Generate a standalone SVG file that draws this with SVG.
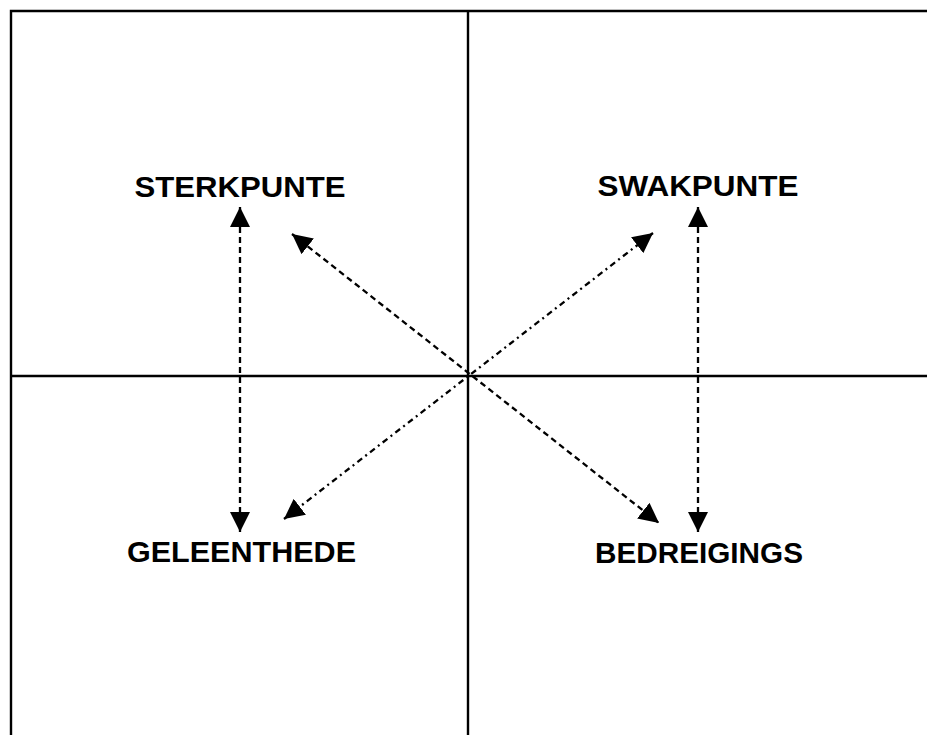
<svg xmlns="http://www.w3.org/2000/svg" width="927" height="735" viewBox="0 0 927 735">
<style>
.frame{stroke:#000;stroke-width:2.4;fill:none}
.dash{stroke:#000;stroke-width:2.3;fill:none;stroke-dasharray:6 4}
.dashdot{stroke:#000;stroke-width:2.3;fill:none;stroke-dasharray:6 4 2 4}
.lbl{font-family:"Liberation Sans",Arial,sans-serif;font-weight:bold;font-size:30px;fill:#000;text-anchor:middle}
</style>
<defs>
<marker id="ahb" viewBox="0 0 20 20" refX="20" refY="10" markerWidth="20" markerHeight="21" markerUnits="userSpaceOnUse" orient="auto-start-reverse">
<path d="M0,0 L20,10 L0,20 Z" fill="#000"/>
</marker>
</defs>
<rect width="927" height="735" fill="#fff"/>
<g id="frame">
<path class="frame" d="M11,736 L11,11 L928,11"/>
<line class="frame" x1="468" y1="11" x2="468" y2="736"/>
<line class="frame" x1="11" y1="376" x2="928" y2="376"/>
</g>
<g id="connectors">
<line class="dash" x1="240" y1="207" x2="240" y2="532" marker-start="url(#ahb)" marker-end="url(#ahb)"/>
<line class="dash" x1="698" y1="207" x2="698" y2="532" marker-start="url(#ahb)" marker-end="url(#ahb)"/>
<line class="dash" x1="292" y1="234" x2="659" y2="523" marker-start="url(#ahb)" marker-end="url(#ahb)"/>
<line class="dashdot" x1="653" y1="233" x2="284" y2="519" marker-start="url(#ahb)" marker-end="url(#ahb)"/>
</g>
<g id="sterkpunte"><text class="lbl" x="240" y="197" textLength="211" lengthAdjust="spacingAndGlyphs">STERKPUNTE</text></g>
<g id="swakpunte"><text class="lbl" x="698" y="196" textLength="201" lengthAdjust="spacingAndGlyphs">SWAKPUNTE</text></g>
<g id="geleenthede"><text class="lbl" x="241.5" y="562" textLength="229" lengthAdjust="spacingAndGlyphs">GELEENTHEDE</text></g>
<g id="bedreigings"><text class="lbl" x="699" y="563" textLength="208" lengthAdjust="spacingAndGlyphs">BEDREIGINGS</text></g>
</svg>
